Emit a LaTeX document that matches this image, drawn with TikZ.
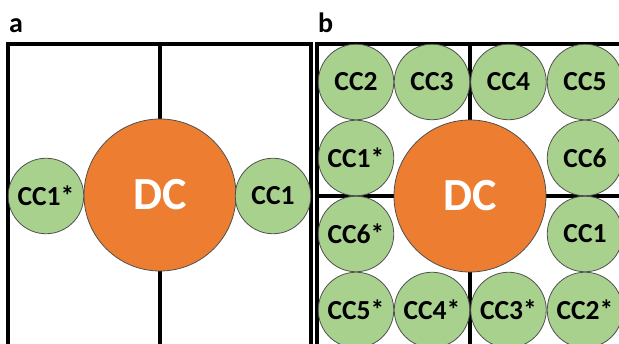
\documentclass[tikz,border=0pt]{standalone}
\usepackage{fontspec}
\setmainfont{Carlito}
\definecolor{ccgreen}{HTML}{A9D18E}
\definecolor{dcorange}{HTML}{ED7D31}
\definecolor{rimgray}{HTML}{505050}
\tikzset{
  cc/.style={circle, draw=rimgray, line width=0.8pt, fill=ccgreen, minimum size=75.5pt, inner sep=0pt,
    font=\fontsize{27.5}{27.5}\selectfont\bfseries, text=black},
  dc/.style={circle, draw=rimgray, line width=0.8pt, fill=dcorange, minimum size=152pt, inner sep=0pt,
    font=\fontsize{46}{46}\selectfont\bfseries, text=white},
  wall/.style={line width=3.2pt, black},
  panel/.style={font=\fontsize{28}{28}\selectfont\bfseries, anchor=base west, inner sep=0pt}
}
\begin{document}
\begin{tikzpicture}[x=1pt,y=-1pt]
\useasboundingbox (0,0) rectangle (619,344);
\clip (0,0) rectangle (619,344);
\fill[white] (0,0) rectangle (619,344);
% panel a
\node[panel] (la) at (9,33) {a};
\draw[wall] (8,44) rectangle (311,400);
\draw[wall] (160,44) -- (160,400);
\node[dc] (dca) at (160,195) {DC};
\node[cc] (a1s) at (46,196) {CC1*};
\node[cc] (a1) at (273,196) {CC1};
% panel b
\node[panel] (lb) at (318,33) {b};
\draw[wall] (317,44) rectangle (660,400);
\draw[wall] (470,44) -- (470,400);
\draw[wall] (317,196) -- (660,196);
\node[dc] (dcb) at (470,196) {DC};
\node[cc] (b2) at (356,82) {CC2};
\node[cc] (b3) at (432,82) {CC3};
\node[cc] (b4) at (508.5,82) {CC4};
\node[cc] (b5) at (585,82) {CC5};
\node[cc] (b1s) at (356,158) {CC1*};
\node[cc] (b6) at (585,158) {CC6};
\node[cc] (b6s) at (356,234) {CC6*};
\node[cc] (b1) at (585,234) {CC1};
\node[cc] (b5s) at (356,310) {CC5*};
\node[cc] (b4s) at (432,310) {CC4*};
\node[cc] (b3s) at (508.5,310) {CC3*};
\node[cc] (b2s) at (585,310) {CC2*};
\end{tikzpicture}
\end{document}
